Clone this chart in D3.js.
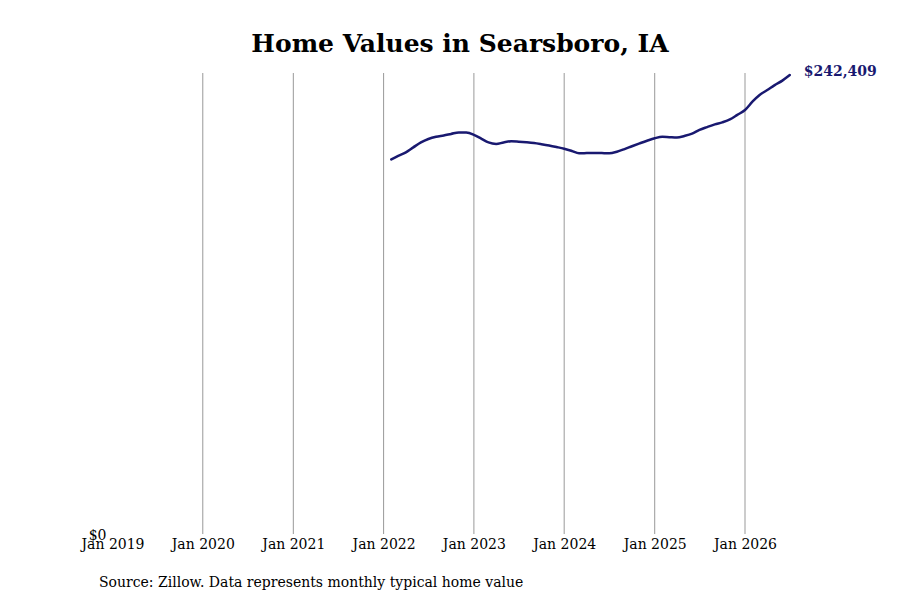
<!DOCTYPE html>
<html>
<head>
<meta charset="utf-8">
<script src="https://cdn.jsdelivr.net/npm/d3@7/dist/d3.min.js"></script>
<style>
  html, body { margin: 0; padding: 0; background: #fff; }
  svg { display: block; font-family: "DejaVu Serif", serif; }
</style>
</head>
<body>
<svg id="chart" width="900" height="600"></svg>
<script>
// ---- data ----
const title = "Home Values in Searsboro, IA";
const source = "Source: Zillow. Data represents monthly typical home value";
const startMonth = "2022-02";   // first month of the series
const values = [
  198000, 199800, 201700, 204300, 206900, 208700, 209900, 210600, 211400, 212200, 212100, // Feb-Dec 2022
  210900, 208800, 206900, 206100, 206900, 207500, 207300, 207000, 206600, 206000, 205300, 204500, // 2023
  203600, 202400, 201200, 201300, 201400, 201300, 201200, 202000, 203400, 204900, 206400, 207800, // 2024
  209100, 209900, 209700, 209500, 210300, 211500, 213500, 215000, 216400, 217500, 219000, 221400, // 2025
  224000, 228500, 231900, 234500, 237100, 239500, 242409 // Jan-Jul 2026
];
const xTickLabels = ["Jan 2019","Jan 2020","Jan 2021","Jan 2022","Jan 2023","Jan 2024","Jan 2025","Jan 2026"];
const yTickValues = [0];
const endLabel = "$242,409";

// ---- build ----
const parseMonth = d3.timeParse("%Y-%m");
const t0 = parseMonth(startMonth);
const series = values.map((v, i) => ({ date: d3.timeMonth.offset(t0, i), value: v }));
const tickDates = xTickLabels.map(s => d3.timeParse("%b %Y")(s));

const svg = d3.select("#chart");
const x = d3.scaleTime()
  .domain([tickDates[0], tickDates[tickDates.length - 1]])
  .range([112.5, 745]);
const y = d3.scaleLinear().domain([0, 243500]).range([535, 73]);

// title
svg.append("text")
  .attr("x", 460).attr("y", 52)
  .attr("text-anchor", "middle")
  .attr("font-size", 25).attr("font-weight", "bold")
  .attr("fill", "#000")
  .text(title);

// vertical grid lines (skip the first)
svg.append("g")
  .selectAll("line")
  .data(tickDates.slice(1))
  .join("line")
  .attr("x1", d => x(d)).attr("x2", d => x(d))
  .attr("y1", y.range()[1]).attr("y2", 534)
  .attr("stroke", "#999").attr("stroke-width", 1);

// x axis
const xAxis = d3.axisBottom(x)
  .tickValues(tickDates)
  .tickFormat(d3.timeFormat("%b %Y"))
  .tickSize(0).tickPadding(4);
const gx = svg.append("g").attr("transform", "translate(0,535)").call(xAxis);
gx.select(".domain").remove();
gx.selectAll("text").attr("font-family", "DejaVu Serif").attr("font-size", 14).attr("fill", "#000");

// y axis
const yAxis = d3.axisLeft(y).tickValues(yTickValues).tickFormat(d => "$" + d3.format(",")(d)).tickSize(0).tickPadding(6);
const gy = svg.append("g").attr("transform", "translate(112.5,0)").call(yAxis);
gy.select(".domain").remove();
gy.selectAll("text").attr("font-family", "DejaVu Serif").attr("font-size", 14).attr("fill", "#000");

// line
const line = d3.line()
  .x(d => x(d.date)).y(d => y(d.value))
  .curve(d3.curveMonotoneX);
svg.append("path")
  .datum(series)
  .attr("d", line)
  .attr("fill", "none")
  .attr("stroke", "#191970")
  .attr("stroke-width", 2.5)
  .attr("stroke-linecap", "round");

// end label
const last = series[series.length - 1];
svg.append("text")
  .attr("x", x(last.date) + 14).attr("y", y(last.value) + 1)
  .attr("font-size", 14).attr("font-weight", "bold")
  .attr("fill", "#191970")
  .text(endLabel);

// source
svg.append("text")
  .attr("x", 99).attr("y", 587)
  .attr("font-size", 14)
  .attr("fill", "#000")
  .text(source);
</script>
</body>
</html>
